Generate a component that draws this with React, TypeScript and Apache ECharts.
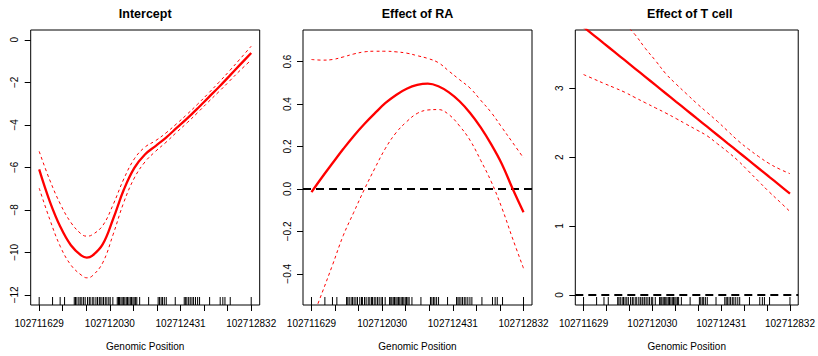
import React, { useEffect, useRef } from 'react';
import * as echarts from 'echarts';

const BASE = 102711629;
const X_MIN = 102711580.88;
const X_MAX = 102712880.12;

// sample positions (offset from BASE)
const gridOffsets = [0, 60, 120, 180, 240, 300, 360, 420, 480, 540, 600, 660, 720, 780, 840, 900, 960, 1020, 1080, 1140, 1203];
const interceptOffsets = [0, 60, 120, 180, 240, 270, 300, 360, 420, 480, 540, 600, 660, 720, 780, 840, 900, 960, 1020, 1080, 1140, 1203];

// Intercept panel
const interceptMain = [-6.1, -7.6, -8.8, -9.67, -10.16, -10.25, -10.17, -9.63, -8.42, -7.06, -6.03, -5.4, -5.0, -4.6, -4.15, -3.7, -3.22, -2.72, -2.22, -1.7, -1.17, -0.62];
const interceptUpper = [-5.25, -6.6, -7.73, -8.6, -9.15, -9.24, -9.18, -8.75, -7.75, -6.55, -5.6, -5.05, -4.75, -4.38, -3.95, -3.5, -3.02, -2.52, -2.0, -1.46, -0.9, -0.3];
const interceptLower = [-6.98, -8.45, -9.73, -10.6, -11.08, -11.2, -11.12, -10.5, -9.15, -7.65, -6.5, -5.75, -5.25, -4.82, -4.35, -3.9, -3.42, -2.92, -2.44, -1.94, -1.44, -0.95];

// Effect of RA panel
const raMain = [-0.015, 0.055, 0.122, 0.188, 0.25, 0.306, 0.357, 0.405, 0.443, 0.472, 0.49, 0.496, 0.484, 0.455, 0.413, 0.358, 0.29, 0.21, 0.118, 0.003, -0.11];
const raUpper = [0.61, 0.607, 0.61, 0.622, 0.636, 0.646, 0.649, 0.649, 0.646, 0.64, 0.628, 0.615, 0.595, 0.555, 0.515, 0.475, 0.418, 0.36, 0.29, 0.22, 0.146];
const raLower = [-0.62, -0.49, -0.357, -0.22, -0.11, -0.002, 0.098, 0.192, 0.265, 0.317, 0.356, 0.372, 0.374, 0.35, 0.297, 0.229, 0.135, 0.034, -0.089, -0.231, -0.374];

// Effect of T cell panel
const tMain = [3.89, 3.77, 3.649, 3.529, 3.408, 3.287, 3.166, 3.046, 2.925, 2.804, 2.684, 2.563, 2.443, 2.322, 2.201, 2.081, 1.96, 1.839, 1.719, 1.598, 1.47];
const tUpper = [4.66, 4.48, 4.3, 4.12, 3.94, 3.78, 3.58, 3.4, 3.21, 3.06, 2.92, 2.78, 2.65, 2.52, 2.38, 2.24, 2.12, 2.01, 1.91, 1.83, 1.76];
const tLower = [3.2, 3.135, 3.07, 3.008, 2.943, 2.866, 2.79, 2.715, 2.64, 2.56, 2.477, 2.395, 2.31, 2.195, 2.078, 1.95, 1.8, 1.65, 1.5, 1.36, 1.21];

// rug (data positions, offsets from BASE)
const rugOffsets = [0, 76, 119, 144, 199, 206, 214, 225, 233, 242, 252, 261, 274, 284, 289, 301, 310, 322, 331, 341, 346, 356, 365, 375, 384, 395, 403, 418, 443, 450, 456, 464, 471, 479, 486, 494, 501, 509, 517, 524, 532, 539, 547, 554, 570, 621, 675, 683, 692, 700, 710, 721, 772, 823, 831, 838, 848, 857, 867, 876, 887, 899, 910, 967, 1027, 1042, 1054, 1084, 1203];

const xTickValues = [102711629, 102711762.67, 102711896.33, 102712030, 102712163.67, 102712297.33, 102712431, 102712564.67, 102712698.33, 102712832];
const xLabelValues = [102711629, 102712030, 102712431, 102712832];

const titles = ['Intercept', 'Effect of RA', 'Effect of T cell'];
const yTicks = [
  [-12, -10, -8, -6, -4, -2, 0],
  [-0.4, -0.2, 0, 0.2, 0.4, 0.6],
  [0, 1, 2, 3],
];
const yRanges = [
  [-12.48, 0.46],
  [-0.547, 0.749],
  [-0.147, 3.847],
];
const zeroLine = [false, true, true];
const smoothness = [0.4, 0.4, 0.2];

const FONT = 'Liberation Sans, Arial, Helvetica, sans-serif';

export default function App() {
  const ref = useRef<HTMLDivElement>(null);
  useEffect(() => {
    if (!ref.current) return;
    const chart = echarts.init(ref.current, null, { renderer: 'svg' });
    const panelOffsets = [interceptOffsets, gridOffsets, gridOffsets];
    const panels = [
      [interceptMain, interceptUpper, interceptLower],
      [raMain, raUpper, raLower],
      [tMain, tUpper, tLower],
    ];
    const grids = [
      { left: 30.7, top: 30, width: 229, height: 279.3 },
      { left: 303, top: 30, width: 229, height: 279.3 },
      { left: 575.3, top: 30, width: 229, height: 279.3 },
    ];
    const fmtNum = (v: number, dec: number) => {
      const s = dec > 0 ? Math.abs(v).toFixed(dec) : String(Math.abs(Math.round(v)));
      return (v < -1e-9 ? '\u2212' : '') + s;
    };
    const series: any[] = [];
    panels.forEach((p, i) => {
      const [main, up, lo] = p;
      const xs = panelOffsets[i].map((o) => BASE + o);
      const toData = (arr: number[]) => arr.map((v, k) => [xs[k], v]);
      series.push({
        type: 'line',
        xAxisIndex: i,
        yAxisIndex: i,
        data: toData(main),
        showSymbol: false,
        smooth: smoothness[i],
        lineStyle: { color: '#ff0000', width: 2.3 },
        z: 5,
        markLine: zeroLine[i]
          ? {
              silent: true,
              symbol: ['none', 'none'],
              label: { show: false },
              lineStyle: { color: '#000', width: 2, type: [8, 5] },
              data: [{ yAxis: 0 }],
            }
          : undefined,
      });
      [up, lo].forEach((arr) => {
        series.push({
          type: 'line',
          xAxisIndex: i,
          yAxisIndex: i,
          data: toData(arr),
          showSymbol: false,
          smooth: 0.4,
          lineStyle: { color: '#ff0000', width: 1, type: [3, 3] },
          z: 4,
        });
      });
      const yMin = yRanges[i][0];
      series.push({
        type: 'custom',
        xAxisIndex: i,
        yAxisIndex: i,
        data: rugOffsets.map((o) => [BASE + o, yMin]),
        renderItem: (params: any, api: any) => {
          const pt = api.coord([api.value(0), api.value(1)]);
          return {
            type: 'line',
            shape: { x1: pt[0], y1: pt[1], x2: pt[0], y2: pt[1] - 8 },
            style: { stroke: '#000', lineWidth: 1 },
          };
        },
        z: 3,
      });
    });

    const decs = [0, 1, 0];
    chart.setOption({
      animation: false,
      backgroundColor: '#fff',
      textStyle: { fontFamily: FONT },
      grid: grids.map((g) => ({ ...g, show: true, borderColor: '#000', borderWidth: 1, backgroundColor: 'transparent' })),
      xAxis: grids.map((g, i) => ({
        type: 'value',
        gridIndex: i,
        min: X_MIN,
        max: X_MAX,
        position: 'bottom',
        axisLine: { show: false, onZero: false },
        splitLine: { show: false },
        axisTick: { show: true, length: 6, lineStyle: { color: '#000' }, customValues: xTickValues },
        axisLabel: {
          show: true,
          margin: 13,
          fontSize: 10,
          color: '#000',
          fontFamily: FONT,
          customValues: xLabelValues,
          formatter: (v: number) => String(Math.round(v)),
        },
        name: 'Genomic Position',
        nameLocation: 'middle',
        nameGap: 36,
        nameTextStyle: { fontSize: 10, color: '#000', fontFamily: FONT },
      })),
      yAxis: grids.map((g, i) => ({
        type: 'value',
        gridIndex: i,
        min: yRanges[i][0],
        max: yRanges[i][1],
        position: 'left',
        axisLine: { show: false, onZero: false },
        splitLine: { show: false },
        axisTick: { show: true, length: 6, lineStyle: { color: '#000' }, customValues: yTicks[i] },
        axisLabel: {
          show: true,
          rotate: 90,
          margin: 11,
          fontSize: 10,
          color: '#000',
          fontFamily: FONT,
          customValues: yTicks[i],
          formatter: (v: number) => fmtNum(v, decs[i]),
        },
      })),
      graphic: titles.map((t, i) => ({
        type: 'text',
        x: grids[i].left + grids[i].width / 2,
        y: 13.5,
        style: {
          text: t,
          fontSize: 12.5,
          fontWeight: 'bold',
          fontFamily: FONT,
          fill: '#000',
          align: 'center',
          verticalAlign: 'middle',
        },
      })),
      series,
    });
    return () => chart.dispose();
  }, []);
  return <div ref={ref} style={{ position: 'absolute', left: 0, top: 0, width: 818, height: 356 }} />;
}
